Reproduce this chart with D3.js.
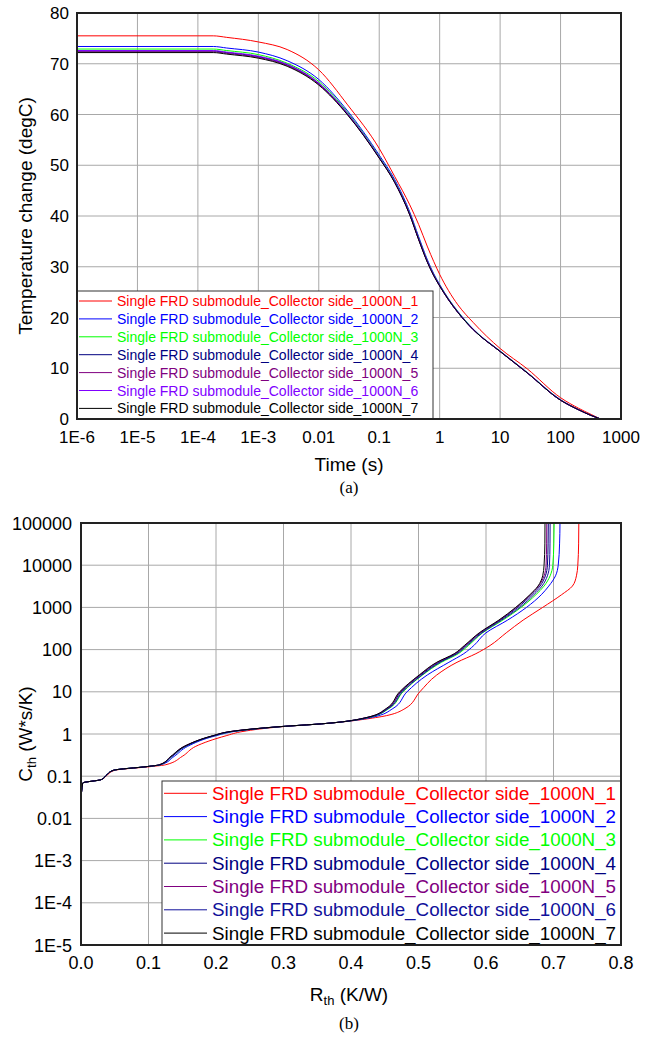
<!DOCTYPE html>
<html>
<head>
<meta charset="utf-8">
<script src="https://cdn.jsdelivr.net/npm/d3@7/dist/d3.min.js"></script>
<style>
  body { margin: 0; background: #fff; }
  text { font-family: "Liberation Sans", Arial, sans-serif; }
</style>
</head>
<body>
<div id="wrapper"></div>
<script>
// ---- data ----
const seriesNames = [1, 2, 3, 4, 5, 6, 7].map(i => "Single FRD submodule_Collector side_1000N_" + i)
const colorsA = ["#ff0000", "#0000ff", "#00ff00", "#000080", "#800080", "#8000ff", "#000000"]
const colorsB = ["#ff0000", "#0000ff", "#00ff00", "#000080", "#800080", "#10109a", "#000000"]

// (a) temperature change vs time
const timeTicks = [1e-6, 1e-5, 1e-4, 1e-3, 0.01, 0.1, 1, 10, 100, 1000]
const timeTickLabels = ["1E-6", "1E-5", "1E-4", "1E-3", "0.01", "0.1", "1", "10", "100", "1000"]
const tempTicks = [0, 10, 20, 30, 40, 50, 60, 70, 80]
const times = [1e-6, 1e-4, 1.8e-4, 3e-4, 1e-3, 3e-3, 0.01, 0.03, 0.1, 0.18, 0.32, 0.45, 0.63, 0.8, 1, 1.4, 2, 3.6, 10, 28, 100, 200, 320, 460]
const temp1 = [75.5, 75.5, 75.5, 75.2, 74.3, 72.8, 68.8, 61.9, 53.3, 47.8, 42.2, 38.3, 33.9, 31.0, 28.5, 25.3, 22.5, 19.0, 13.9, 9.9, 4.2, 2.1, 0.9, 0]
const temp2 = [73.4, 73.4, 73.4, 73.1, 72.3, 70.6, 66.9, 60.7, 52.0, 47.2, 40.8, 35.9, 31.3, 28.6, 26.5, 23.7, 21.2, 17.7, 13.4, 9.2, 3.8, 1.85, 0.72, 0]
const temp3 = [72.9, 72.9, 72.9, 72.6, 71.8, 70.1, 66.5, 60.4, 51.7, 46.9, 40.5, 35.6, 31.05, 28.4, 26.35, 23.6, 21.1, 17.65, 13.35, 9.15, 3.75, 1.82, 0.71, 0]
const temp4 = [72.5, 72.5, 72.5, 72.2, 71.4, 69.8, 66.1, 60.1, 51.5, 46.7, 40.3, 35.4, 30.9, 28.3, 26.25, 23.5, 21.0, 17.6, 13.3, 9.1, 3.7, 1.8, 0.7, 0]
const temp5 = [72.35, 72.35, 72.35, 72.05, 71.25, 69.65, 65.95, 60.0, 51.45, 46.65, 40.25, 35.35, 30.85, 28.25, 26.2, 23.5, 21.0, 17.6, 13.3, 9.1, 3.7, 1.8, 0.7, 0]
const temp6 = [72.6, 72.6, 72.6, 72.3, 71.5, 69.9, 66.2, 60.2, 51.55, 46.75, 40.35, 35.45, 30.95, 28.3, 26.25, 23.5, 21.0, 17.6, 13.3, 9.1, 3.7, 1.8, 0.7, 0]
const temp7 = [72.2, 72.2, 72.2, 71.9, 71.1, 69.5, 65.8, 59.9, 51.4, 46.6, 40.2, 35.3, 30.8, 28.2, 26.2, 23.5, 21.0, 17.6, 13.3, 9.1, 3.7, 1.8, 0.7, 0]

// (b) structure function Cth vs Rth
const rthTicks = [0, 0.1, 0.2, 0.3, 0.4, 0.5, 0.6, 0.7, 0.8]
const cthTicks = [1e-5, 1e-4, 1e-3, 0.01, 0.1, 1, 10, 100, 1000, 10000, 100000]
const cthTickLabels = ["1E-5", "1E-4", "1E-3", "0.01", "0.1", "1", "10", "100", "1000", "10000", "100000"]
const cth = [0.025, 0.069, 0.083, 0.107, 0.138, 0.17, 0.186, 0.295, 0.51, 0.91, 1.15, 1.5, 1.74, 2.5, 4.0, 10, 25, 50, 80, 125, 250, 500, 1000, 2000, 3200, 5600, 10000, 32000, 100000]
const rth1 = [0, 0.0025, 0.03, 0.039, 0.05, 0.105, 0.125, 0.15, 0.17, 0.215, 0.24, 0.3, 0.356, 0.44, 0.48, 0.502, 0.527, 0.557, 0.585, 0.606, 0.63, 0.655, 0.684, 0.712, 0.728, 0.734, 0.736, 0.7372, 0.7375]
const rth2 = [0, 0.0025, 0.03, 0.038, 0.048, 0.1, 0.118, 0.138, 0.158, 0.2, 0.228, 0.298, 0.356, 0.432, 0.462, 0.483, 0.513, 0.545, 0.567, 0.582, 0.6, 0.632, 0.66, 0.682, 0.693, 0.703, 0.707, 0.709, 0.7096]
const rth3 = [0, 0.0025, 0.03, 0.038, 0.048, 0.099, 0.117, 0.135, 0.155, 0.197, 0.225, 0.297, 0.356, 0.428, 0.456, 0.477, 0.506, 0.534, 0.559, 0.574, 0.595, 0.625, 0.652, 0.674, 0.686, 0.695, 0.699, 0.7005, 0.701]
const rth4 = [0, 0.0025, 0.03, 0.038, 0.048, 0.099, 0.116, 0.134, 0.154, 0.196, 0.223, 0.296, 0.356, 0.426, 0.454, 0.474, 0.503, 0.53, 0.555, 0.57, 0.592, 0.621, 0.647, 0.668, 0.68, 0.688, 0.691, 0.692, 0.6923]
const rth5 = [0, 0.0025, 0.03, 0.038, 0.048, 0.099, 0.116, 0.134, 0.153, 0.196, 0.222, 0.296, 0.356, 0.425, 0.453, 0.473, 0.502, 0.528, 0.554, 0.569, 0.591, 0.62, 0.645, 0.666, 0.678, 0.686, 0.689, 0.6898, 0.69]
const rth6 = [0, 0.0025, 0.03, 0.038, 0.048, 0.099, 0.117, 0.135, 0.155, 0.197, 0.224, 0.297, 0.356, 0.427, 0.455, 0.476, 0.505, 0.532, 0.557, 0.572, 0.594, 0.623, 0.65, 0.671, 0.683, 0.691, 0.694, 0.6948, 0.695]
const rth7 = [0, 0.0025, 0.03, 0.038, 0.048, 0.099, 0.116, 0.133, 0.153, 0.195, 0.222, 0.296, 0.356, 0.425, 0.452, 0.472, 0.501, 0.527, 0.553, 0.568, 0.59, 0.619, 0.644, 0.665, 0.677, 0.684, 0.686, 0.6872, 0.6874]

function drawCharts() {
    const temps = [temp1, temp2, temp3, temp4, temp5, temp6, temp7]
    const rths = [rth1, rth2, rth3, rth4, rth5, rth6, rth7]

    const svg = d3.select("#wrapper").append("svg")
        .attr("width", 658)
        .attr("height", 1042)

    const gridColor = "#a8a8a8"

    //1) chart (a)
    const a = { left: 77, right: 621, top: 13, bottom: 419 }
    const xA = d3.scaleLog().domain([1e-6, 1000]).range([a.left, a.right])
    const yA = d3.scaleLinear().domain([0, 80]).range([a.bottom, a.top])

    const gA = svg.append("g")
    gA.append("clipPath").attr("id", "clipA").append("rect")
        .attr("x", a.left).attr("y", a.top).attr("width", a.right - a.left).attr("height", a.bottom - a.top)

    gA.append("g").selectAll("line").data(timeTicks.slice(1, -1)).join("line")
        .attr("x1", d => xA(d)).attr("x2", d => xA(d))
        .attr("y1", a.top).attr("y2", a.bottom)
        .attr("stroke", gridColor)
    gA.append("g").selectAll("line").data(tempTicks.slice(1, -1)).join("line")
        .attr("y1", d => yA(d)).attr("y2", d => yA(d))
        .attr("x1", a.left).attr("x2", a.right)
        .attr("stroke", gridColor)

    const lineA = d3.line().x(d => xA(d[0])).y(d => yA(d[1])).curve(d3.curveMonotoneX)
    gA.append("g").attr("clip-path", "url(#clipA)")
        .selectAll("path").data(temps).join("path")
        .attr("d", t => lineA(times.map((x, i) => [x, t[i]])))
        .attr("fill", "none")
        .attr("stroke", (d, i) => colorsA[i])
        .attr("stroke-width", 1)

    // legend (a)
    const legA = gA.append("g")
    legA.append("rect").attr("x", a.left).attr("y", 291).attr("width", 356).attr("height", a.bottom - 291)
        .attr("fill", "#fff").attr("stroke", "#333")
    seriesNames.forEach((name, i) => {
        const cy = 301 + i * 17.9
        legA.append("line").attr("x1", 79).attr("x2", 112).attr("y1", cy).attr("y2", cy)
            .attr("stroke", colorsA[i])
        legA.append("text").attr("x", 117).attr("y", cy + 5).attr("font-size", 14)
            .attr("fill", colorsA[i]).text(name)
    })

    gA.append("rect").attr("x", a.left).attr("y", a.top).attr("width", a.right - a.left).attr("height", a.bottom - a.top)
        .attr("fill", "none").attr("stroke", "#222").attr("stroke-width", 2)

    gA.append("g").selectAll("text").data(timeTicks).join("text")
        .attr("x", d => xA(d)).attr("y", 443)
        .attr("text-anchor", "middle").attr("font-size", 17)
        .text((d, i) => timeTickLabels[i])
    gA.append("g").selectAll("text").data(tempTicks).join("text")
        .attr("x", 69).attr("y", d => yA(d) + 6)
        .attr("text-anchor", "end").attr("font-size", 17)
        .text(d => d)

    gA.append("text").attr("x", 349).attr("y", 471).attr("text-anchor", "middle")
        .attr("font-size", 19).text("Time (s)")
    gA.append("text").attr("transform", `translate(32, ${(a.top + a.bottom) / 2}) rotate(-90)`)
        .attr("text-anchor", "middle").attr("font-size", 19).text("Temperature change (degC)")
    gA.append("text").attr("x", 349).attr("y", 493).attr("text-anchor", "middle")
        .attr("font-size", 17).style("font-family", "'Liberation Serif', 'Times New Roman', serif").text("(a)")

    //2) chart (b)
    const b = { left: 81, right: 621, top: 523, bottom: 945 }
    const xB = d3.scaleLinear().domain([0, 0.8]).range([b.left, b.right])
    const yB = d3.scaleLog().domain([1e-5, 1e5]).range([b.bottom, b.top])

    const gB = svg.append("g")
    gB.append("clipPath").attr("id", "clipB").append("rect")
        .attr("x", b.left).attr("y", b.top).attr("width", b.right - b.left).attr("height", b.bottom - b.top)

    gB.append("g").selectAll("line").data(rthTicks.slice(1, -1)).join("line")
        .attr("x1", d => xB(d)).attr("x2", d => xB(d))
        .attr("y1", b.top).attr("y2", b.bottom)
        .attr("stroke", gridColor)
    gB.append("g").selectAll("line").data(cthTicks.slice(1, -1)).join("line")
        .attr("y1", d => yB(d)).attr("y2", d => yB(d))
        .attr("x1", b.left).attr("x2", b.right)
        .attr("stroke", gridColor)

    const lineB = d3.line().x(d => xB(d[0])).y(d => yB(d[1])).curve(d3.curveMonotoneY)
    gB.append("g").attr("clip-path", "url(#clipB)")
        .selectAll("path").data(rths).join("path")
        .attr("d", r => lineB(cth.map((c, i) => [r[i], c])))
        .attr("fill", "none")
        .attr("stroke", (d, i) => colorsB[i])
        .attr("stroke-width", 1)

    // legend (b)
    const legB = gB.append("g")
    legB.append("rect").attr("x", 162).attr("y", 781).attr("width", b.right - 162).attr("height", b.bottom - 781)
        .attr("fill", "#fff").attr("stroke", "#333")
    seriesNames.forEach((name, i) => {
        const cy = 793.3 + i * 23.3
        legB.append("line").attr("x1", 164).attr("x2", 207).attr("y1", cy).attr("y2", cy)
            .attr("stroke", colorsB[i])
        legB.append("text").attr("x", 212).attr("y", cy + 6.5).attr("font-size", 18.8)
            .attr("fill", colorsB[i]).text(name)
    })

    gB.append("rect").attr("x", b.left).attr("y", b.top).attr("width", b.right - b.left).attr("height", b.bottom - b.top)
        .attr("fill", "none").attr("stroke", "#222").attr("stroke-width", 2)

    gB.append("g").selectAll("text").data(rthTicks).join("text")
        .attr("x", d => xB(d)).attr("y", 969)
        .attr("text-anchor", "middle").attr("font-size", 18)
        .text(d => d.toFixed(1))
    gB.append("g").selectAll("text").data(cthTicks).join("text")
        .attr("x", 72).attr("y", d => yB(d) + 6.5)
        .attr("text-anchor", "end").attr("font-size", 18)
        .text((d, i) => cthTickLabels[i])

    const xt = gB.append("text").attr("x", 349).attr("y", 1001).attr("text-anchor", "middle").attr("font-size", 19)
    xt.append("tspan").text("R")
    xt.append("tspan").attr("font-size", 13).attr("dy", 4).text("th")
    xt.append("tspan").attr("dy", -4).text(" (K/W)")

    const yt = gB.append("text").attr("transform", `translate(32, ${(b.top + b.bottom) / 2}) rotate(-90)`)
        .attr("text-anchor", "middle").attr("font-size", 19)
    yt.append("tspan").text("C")
    yt.append("tspan").attr("font-size", 13).attr("dy", 4).text("th")
    yt.append("tspan").attr("dy", -4).text(" (W*s/K)")

    gB.append("text").attr("x", 349).attr("y", 1029).attr("text-anchor", "middle")
        .attr("font-size", 17).style("font-family", "'Liberation Serif', 'Times New Roman', serif").text("(b)")
}
drawCharts()
</script>
</body>
</html>
